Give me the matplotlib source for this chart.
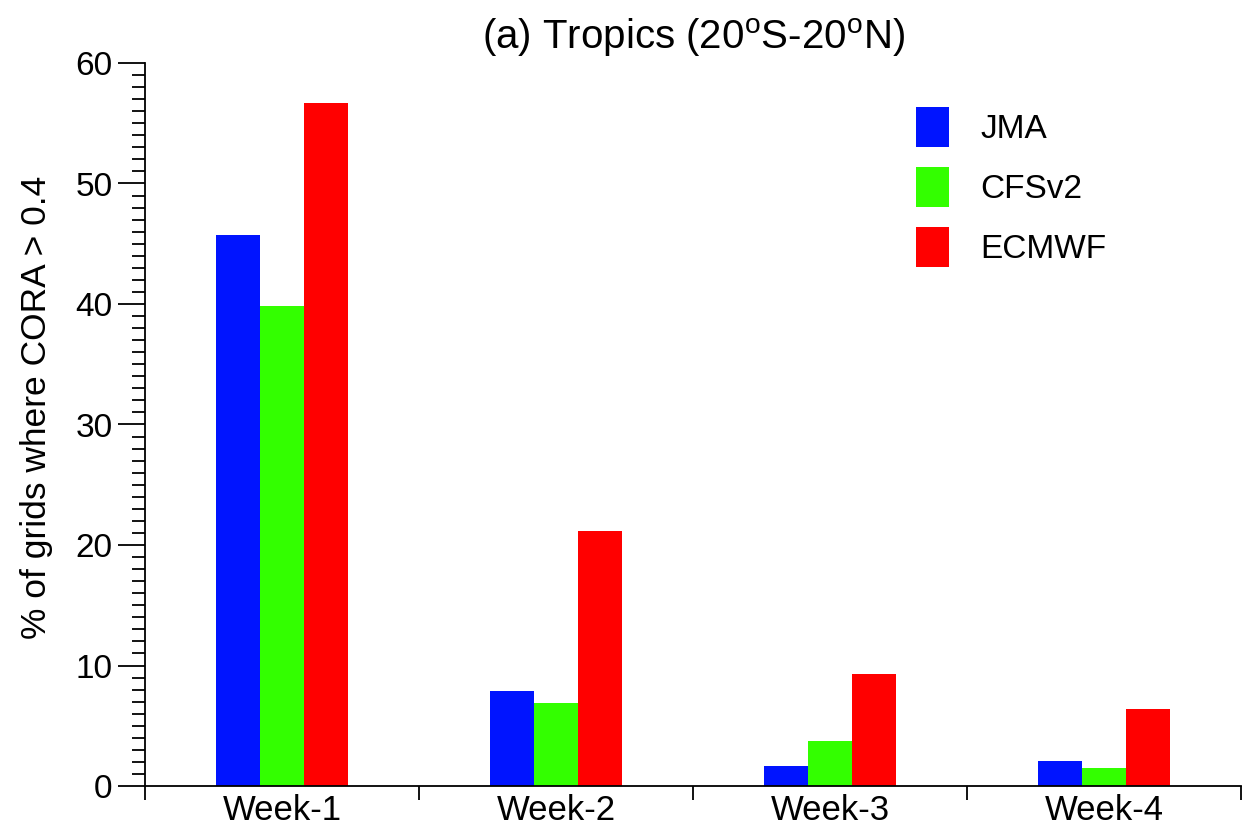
import numpy as np
import matplotlib
matplotlib.use('Agg')
import matplotlib.pyplot as plt
from matplotlib.ticker import MultipleLocator, FixedLocator

plt.rcParams['font.family'] = ['Liberation Sans', 'DejaVu Sans']
plt.rcParams['mathtext.fontset'] = 'custom'
plt.rcParams['mathtext.rm'] = 'Liberation Sans'

# Dados
weeks = ['Week-1', 'Week-2', 'Week-3', 'Week-4']
models = ['JMA', 'CFSv2', 'ECMWF']
jma = [45.7, 7.9, 1.7, 2.1]
cfsv2 = [39.8, 6.9, 3.7, 1.5]
ecmwf = [56.7, 21.2, 9.3, 6.4]
colors = ['#0014ff', '#33ff00', '#ff0000']

fig = plt.figure(figsize=(12.45, 8.3), dpi=100)
ax = fig.add_axes([145 / 1245, 44 / 830, 1096 / 1245, 723 / 830])

x = np.arange(len(weeks))
w = 0.16
for i, (vals, name) in enumerate(zip([jma, cfsv2, ecmwf], models)):
    ax.bar(x + (i - 1) * w, vals, width=w, color=colors[i], label=name,
           linewidth=0)

ax.set_xlim(-0.5, 3.5)
ax.set_ylim(0, 60)

# eixo y: ticks maiores a cada 10, menores a cada 1
ax.yaxis.set_major_locator(MultipleLocator(10))
ax.yaxis.set_minor_locator(MultipleLocator(1))
ax.tick_params(axis='y', which='major', length=19.5, width=1.3,
               labelsize=24, pad=4)
ax.tick_params(axis='y', which='minor', length=9.5, width=1.3)

# eixo x: ticks nas divisas, rotulos no centro
ax.xaxis.set_major_locator(FixedLocator(np.arange(-0.5, 4.0, 1.0)))
ax.xaxis.set_major_formatter(plt.NullFormatter())
ax.set_xticks(x, weeks, minor=True)
ax.tick_params(axis='x', which='major', length=10, width=1.3)
ax.tick_params(axis='x', which='minor', length=0, labelsize=25, pad=6)

for s in ['top', 'right']:
    ax.spines[s].set_visible(False)
for s in ['left', 'bottom']:
    ax.spines[s].set_linewidth(1.3)

ax.set_ylabel('% of grids where CORA > 0.4', fontsize=25.5)
ax.yaxis.set_label_coords(-0.084, 0.523)
ax.set_title(r'(a) Tropics (20$^{\mathrm{o}}$S-20$^{\mathrm{o}}$N)',
             fontsize=29, pad=10)

ax.legend(loc='upper left', bbox_to_anchor=(916 / 1245, 1 - 107 / 830),
          bbox_transform=fig.transFigure, frameon=False, fontsize=24,
          handlelength=1.0, handleheight=1.47, handletextpad=0.94,
          labelspacing=0.6, borderpad=0, borderaxespad=0)

plt.savefig('out.png', dpi=100)
